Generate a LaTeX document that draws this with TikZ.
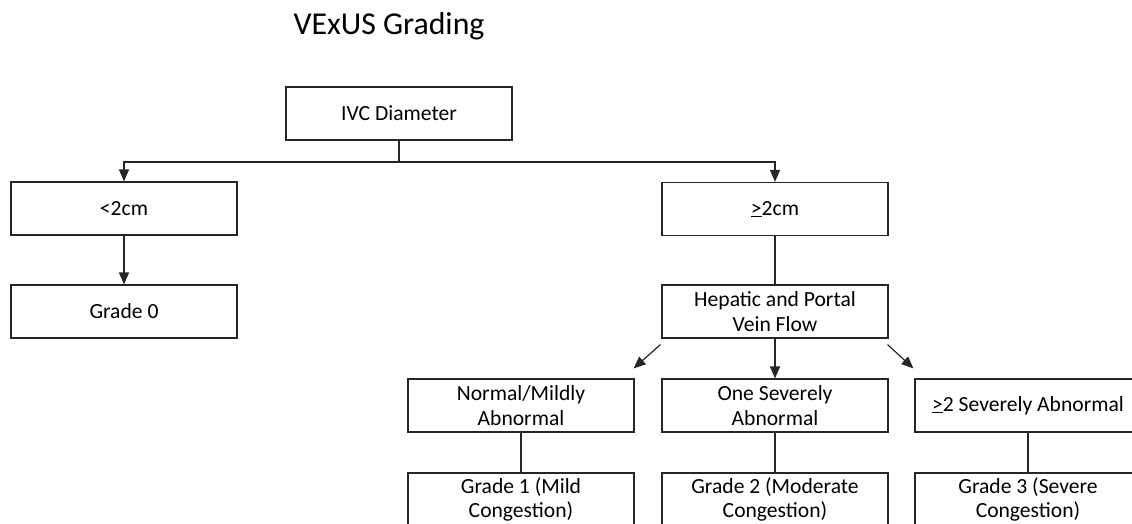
\documentclass[tikz,border=0pt]{standalone}
\usepackage{fontspec}
\setmainfont{Carlito}
\usetikzlibrary{arrows.meta,calc}
\begin{document}
\begin{tikzpicture}[x=1pt,y=-1pt,
  box/.style={draw=black!85,line width=1.2pt,minimum width=226pt,minimum height=53pt,inner sep=0pt,align=center,font=\fontsize{21.6}{24.5}\selectfont},
  con/.style={draw=black!85,line width=1.2pt},
  arr/.style={con,-{Triangle[length=12pt,width=10pt]}}]
\useasboundingbox (0,0) rectangle (1132,523);
\clip (0,0) rectangle (1132,523);
\node[anchor=base,font=\fontsize{31.8}{36}\selectfont] (title) at (389,34) {VExUS Grading};
\node[box] (ivc) at (399,113.5) {IVC Diameter};
\node[box] (lt) at (124,208.5) {<2cm};
\node[box] (g0) at (124,311.5) {Grade 0};
\node[box] (ge) at (775,209) {\underline{>}2cm};
\node[box] (hep) at (775,311.5) {Hepatic and Portal\\Vein Flow};
\node[box] (nm) at (521,405.5) {Normal/Mildly\\Abnormal};
\node[box] (one) at (775,405.5) {One Severely\\Abnormal};
\node[box] (sev) at (1028,405.5) {\underline{>}2 Severely Abnormal};
\node[box] (g1) at (521,499.5) {Grade 1 (Mild\\Congestion)};
\node[box] (g2) at (775,499.5) {Grade 2 (Moderate\\Congestion)};
\node[box] (g3) at (1028,499.5) {Grade 3 (Severe\\Congestion)};
\coordinate (j) at (399,162);
\draw[con] (ivc.south) -- (j);
\draw[arr] (j) -| (lt.north);
\draw[arr] (j) -| (ge.north);
\draw[arr] (lt) -- (g0);
\draw[con] (ge) -- (hep);
\draw[arr] (hep) -- (one);
\coordinate (dl1) at ($(hep.south west)+(-1,6)$);
\coordinate (dl2) at ($(nm.north east)+(-1,-10)$);
\coordinate (dr1) at ($(hep.south east)+(-1,6)$);
\coordinate (dr2) at ($(sev.north west)+(-1,-10)$);
\draw[arr] (dl1) -- (dl2);
\draw[arr] (dr1) -- (dr2);
\draw[con] (nm) -- (g1);
\draw[con] (one) -- (g2);
\draw[con] (sev) -- (g3);
\end{tikzpicture}
\end{document}
